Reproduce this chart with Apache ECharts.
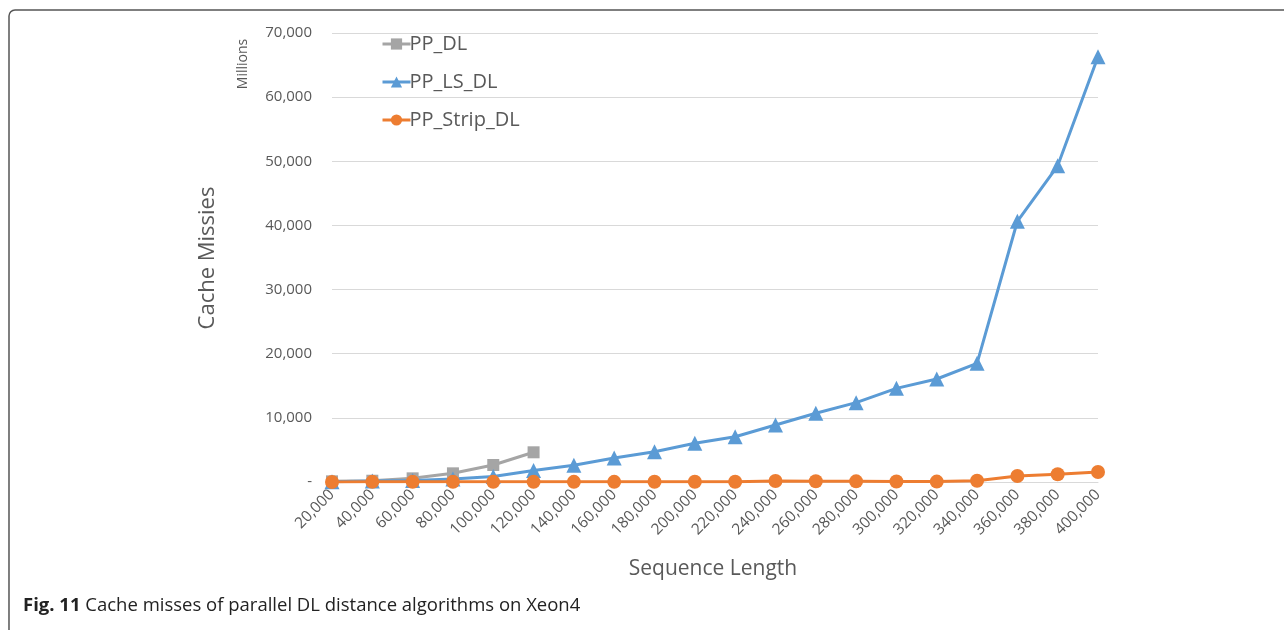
<!DOCTYPE html>
<html>
<head>
<meta charset="utf-8">
<script src="https://cdn.jsdelivr.net/npm/echarts@6/dist/echarts.min.js"></script>
<style>
html,body{margin:0;padding:0;background:#fff;}
#c{width:1284px;height:630px;}
</style>
</head>
<body>
<div id="c"></div>
<script>
const categories = ['20,000','40,000','60,000','80,000','100,000','120,000','140,000','160,000','180,000','200,000','220,000','240,000','260,000','280,000','300,000','320,000','340,000','360,000','380,000','400,000'];
const ppDL = [100, 200, 570, 1350, 2650, 4630, null, null, null, null, null, null, null, null, null, null, null, null, null, null];
const ppLsDL = [50, 150, 250, 470, 850, 1800, 2600, 3750, 4720, 6030, 7060, 8890, 10710, 12370, 14600, 16060, 18500, 40650, 49300, 66300];
const ppStripDL = [10, 20, 20, 20, 20, 20, 20, 20, 30, 30, 40, 150, 120, 100, 80, 60, 200, 930, 1200, 1560];
const yTicks = [0, 10000, 20000, 30000, 40000, 50000, 60000, 70000];

const FONT = '"Open Sans", "Noto Sans", sans-serif';
const TXT = '#595959';
const chart = echarts.init(document.getElementById('c'));
chart.setOption({
  animation: false,
  backgroundColor: '#fff',
  textStyle: {fontFamily: FONT},
  grid: {left: 332, right: 186, top: 33, bottom: 148, containLabel: false},
  legend: {
    orient: 'vertical', left: 376, top: 29, itemGap: 18,
    itemWidth: 28, itemHeight: 14,
    lineStyle: {width: 3},
    textStyle: {fontFamily: FONT, fontSize: 20, color: TXT, padding: [0,0,0,-6]},
    data: ['PP_DL', 'PP_LS_DL', 'PP_Strip_DL']
  },
  xAxis: {
    type: 'category', data: categories, boundaryGap: false,
    axisLine: {show: true, lineStyle: {color: '#D9D9D9', width: 1}},
    axisTick: {show: false},
    axisLabel: {rotate: 45, interval: 0, fontSize: 15.5, color: TXT, fontFamily: FONT, margin: 10},
    splitLine: {show: false}
  },
  yAxis: {
    type: 'value', min: 0, max: 70000, interval: 10000,
    axisLine: {show: false}, axisTick: {show: false},
    axisLabel: {
      fontSize: 15, color: TXT, fontFamily: FONT, margin: 20,
      formatter: v => v === 0 ? '-' : v.toLocaleString('en-US')
    },
    splitLine: {lineStyle: {color: '#D9D9D9', width: 1}}
  },
  series: [
    {name: 'PP_DL', type: 'line', data: ppDL, color: '#A5A5A5', symbol: 'rect', symbolSize: 12,
     lineStyle: {width: 3}, itemStyle: {color: '#A5A5A5'}},
    {name: 'PP_LS_DL', type: 'line', data: ppLsDL, color: '#5B9BD5', symbol: 'triangle', symbolSize: 15,
     lineStyle: {width: 3}, itemStyle: {color: '#5B9BD5'}},
    {name: 'PP_Strip_DL', type: 'line', data: ppStripDL, color: '#ED7D31', symbol: 'circle', symbolSize: 14,
     lineStyle: {width: 3}, itemStyle: {color: '#ED7D31'}}
  ],
  graphic: [
    {type: 'rect', shape: {x: 9, y: 10, width: 1300, height: 640, r: 6}, silent: true, z: -10,
     style: {fill: 'none', stroke: '#555', lineWidth: 1.5}},
    {type: 'text', x: 243, y: 64, rotation: Math.PI/2, silent: true,
     style: {text: 'Millions', font: '14px ' + FONT, fill: TXT, align: 'center', verticalAlign: 'middle'}},
    {type: 'text', x: 208, y: 258, rotation: Math.PI/2, silent: true,
     style: {text: 'Cache Missies', font: '22px ' + FONT, fill: TXT, align: 'center', verticalAlign: 'middle'}},
    {type: 'text', x: 713, y: 569, silent: true,
     style: {text: 'Sequence Length', font: '21px ' + FONT, fill: TXT, align: 'center', verticalAlign: 'middle'}},
    {type: 'text', x: 23, y: 606, silent: true,
     style: {
       text: '{b|Fig. 11} Cache misses of parallel DL distance algorithms on Xeon4',
       font: '18.5px ' + FONT, fill: '#222', verticalAlign: 'middle',
       rich: {b: {fontWeight: 'bold', fontSize: 18.5, fontFamily: FONT, fill: '#222'}}
     }}
  ]
});
</script>
</body>
</html>
